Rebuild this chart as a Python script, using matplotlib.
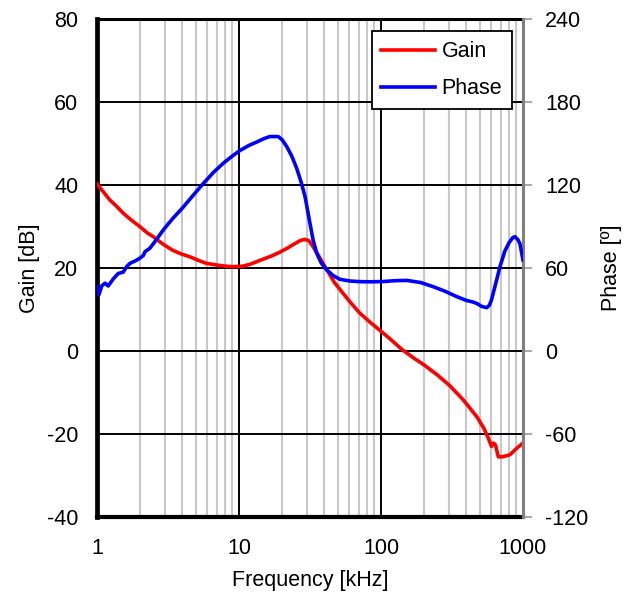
import matplotlib.pyplot as plt
from matplotlib.ticker import NullFormatter, LogLocator

plt.rcParams['font.family'] = ['Liberation Sans', 'DejaVu Sans']
plt.rcParams['axes.unicode_minus'] = False

# gain curve
gain_freq = [1, 1.1, 1.23, 1.38, 1.53, 1.75, 2.0, 2.25, 2.5, 2.9, 3.4, 3.9, 4.5, 5.2, 5.9, 7.0,
             8.2, 9.1, 10.5, 12, 13.3, 15, 17, 19.4, 22, 24, 27, 29, 31, 33, 36, 41.5, 47, 54,
             62, 71, 84, 98, 116, 140, 170, 200, 250, 306, 380, 472, 530, 570, 600, 620, 640,
             670, 720, 810, 900, 1000]
gain_db = [40.3, 38.5, 36.4, 34.8, 33.2, 31.5, 30, 28.5, 27.5, 25.8, 24.3, 23.4, 22.7, 21.8,
           21.1, 20.7, 20.4, 20.3, 20.4, 20.9, 21.5, 22.2, 22.9, 23.8, 24.8, 25.6, 26.6, 26.9,
           26.6, 25.3, 23.2, 19.6, 16.5, 13.9, 11.4, 9.1, 6.9, 5.0, 2.9, 0.4, -1.7, -3.3, -5.8,
           -8.4, -11.8, -15.8, -18.6, -21.0, -23.0, -22.2, -22.6, -25.5, -25.5, -25.0, -23.5,
           -22.2]

# phase curve
phase_freq = [1, 1.03, 1.08, 1.14, 1.2, 1.3, 1.41, 1.53, 1.62, 1.71, 1.85, 2.0, 2.12, 2.18,
              2.36, 2.6, 2.93, 3.4, 4.05, 4.8, 5.6, 6.6, 7.75, 9.0, 10.2, 11.7, 13.3, 15, 16.5,
              18.9, 20.2, 21.7, 23.5, 25.5, 27.3, 29.2, 31.6, 33.3, 35.3, 38, 41.5, 46, 51.4,
              60, 71, 85, 104, 125, 152, 190, 233, 285, 341, 400, 440, 472, 512, 555, 580, 600,
              640, 689, 744, 800, 850, 879, 920, 952, 1000]
phase_deg = [46.5, 40.5, 47, 49, 47, 52, 56, 57, 61, 63.4, 65, 67, 69, 71.8, 74.3, 80, 87.5,
             95.5, 104, 113, 121, 129, 135.7, 141, 145, 148.5, 151, 153.5, 155, 155, 152.5,
             147.7, 141, 132, 122.5, 111.6, 92.3, 80, 70.6, 63.5, 58.6, 54.5, 51.8, 50.6, 50.1,
             50.0, 50.2, 50.8, 51.0, 49.5, 46.5, 43, 39.3, 36.5, 35.5, 34.4, 32.2, 31.3, 33,
             36.9, 48, 61, 72, 78.5, 82, 82.6, 80.5, 77.5, 65.8]

gain_ticks = [-40, -20, 0, 20, 40, 60, 80]
phase_ticks = [-120, -60, 0, 60, 120, 180, 240]
freq_ticks = [1, 10, 100, 1000]
freq_labels = ['1', '10', '100', '1000']

fs = 15.5

fig = plt.figure(figsize=(6.36, 5.98), dpi=100)
ax1 = fig.add_axes([0.1525, 0.1355, 0.6698, 0.8328])
ax2 = ax1.twinx()

l1, = ax1.plot(gain_freq, gain_db, color='#ff0000', lw=2.6, label='Gain', zorder=3)
l2, = ax2.plot(phase_freq, phase_deg, color='#0000ff', lw=2.6, label='Phase', zorder=3)

ax1.set_xscale('log')
ax1.set_xlim(1, 1000)
ax1.set_ylim(-40, 80)
ax2.set_ylim(-120, 240)
ax1.set_xticks(freq_ticks)
ax1.set_xticklabels(freq_labels)
ax1.xaxis.set_minor_locator(LogLocator(base=10, subs=range(2, 10)))
ax1.xaxis.set_minor_formatter(NullFormatter())
ax1.set_yticks(gain_ticks)
ax2.set_yticks(phase_ticks)

# grid
ax1.grid(True, which='minor', axis='x', color='#c8c8c8', lw=1.5, zorder=0)
ax1.grid(True, which='major', axis='x', color='black', lw=1.4, zorder=1)
ax1.grid(True, which='major', axis='y', color='black', lw=1.4, zorder=1)
ax1.set_axisbelow(True)

ax1.tick_params(axis='y', which='both', length=0, labelsize=fs, pad=13.5)
ax1.tick_params(axis='x', which='both', length=0, labelsize=fs, pad=15)
ax2.tick_params(axis='y', length=6.5, width=1.2, color='#999999', labelsize=fs, pad=9.5)

ax1.spines['left'].set_linewidth(3.4)
ax1.spines['bottom'].set_linewidth(3.0)
ax1.spines['top'].set_linewidth(2.2)
ax1.spines['right'].set_visible(False)
for s in ['left', 'bottom', 'top']:
    ax2.spines[s].set_visible(False)
ax2.spines['right'].set_color('#808080')
ax2.spines['right'].set_linewidth(2.2)

ax1.set_xlabel('Frequency [kHz]', fontsize=fs, labelpad=8)
ax1.set_ylabel('Gain [dB]', fontsize=fs, labelpad=5)
ax2.set_ylabel('Phase [º]', fontsize=fs, labelpad=9)

leg = ax2.legend([l1, l2], ['Gain', 'Phase'], loc='upper right', bbox_to_anchor=(0.974, 0.975),
                 fontsize=fs, fancybox=False, framealpha=1, edgecolor='black',
                 handlelength=2.5, borderpad=0.45, labelspacing=0.75, handletextpad=0.3,
                 borderaxespad=0)
leg.get_frame().set_linewidth(1.3)

fig.savefig('out.png', dpi=100)
